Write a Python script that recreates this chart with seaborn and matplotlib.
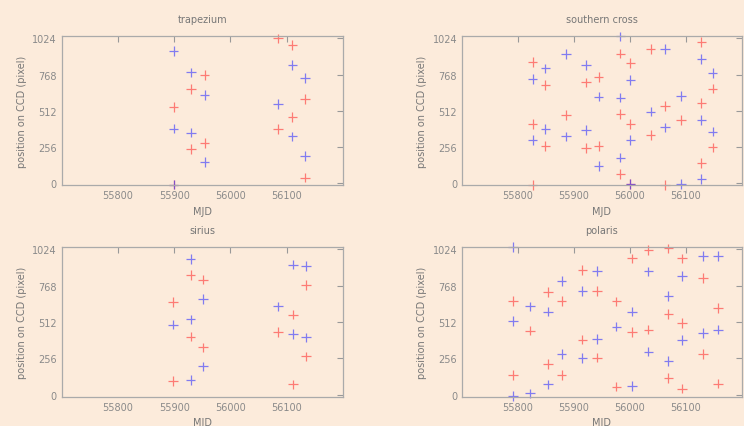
import pandas as pd
import matplotlib
matplotlib.use("Agg")
import matplotlib.pyplot as plt
import seaborn as sns

# data (MJD, position on CCD in pixels)
trap_red_mjd = [55899, 55899, 55930, 55930, 55954, 55954, 56084, 56084, 56110, 56110, 56133, 56133]
trap_red_pos = [539, -12, 664, 239, 764, 281, 1024, 381, 977, 468, 594, 38]
trap_blue_mjd = [55899, 55899, 55899, 55930, 55930, 55954, 55954, 56084, 56110, 56110, 56133, 56133]
trap_blue_pos = [936, 385, -12, 783, 357, 624, 149, 558, 837, 329, 742, 192]

south_red_mjd = [55826, 55826, 55826, 55849, 55849, 55886, 55922, 55922, 55944, 55944,
                 55983, 55983, 55983, 56001, 56001, 56001, 56037, 56037, 56063, 56063,
                 56091, 56128, 56128, 56128, 56148, 56148]
south_red_pos = [858, 416, -14, 693, 262, 482, 712, 246, 752, 262,
                 917, 487, 61, 849, 416, -9, 948, 338, 546, -14,
                 447, 1000, 565, 140, 669, 251]
south_blue_mjd = [55826, 55826, 55849, 55849, 55886, 55886, 55922, 55922, 55944, 55944,
                  55983, 55983, 55983, 56001, 56001, 56001, 56037, 56063, 56063, 56091,
                  56091, 56128, 56128, 56128, 56148, 56148]
south_blue_pos = [735, 303, 811, 381, 913, 329, 837, 376, 612, 121,
                  1038, 605, 180, 731, 303, -9, 506, 948, 393, 617,
                  -9, 877, 447, 26, 778, 364]

sirius_red_mjd = [55898, 55898, 55929, 55929, 55951, 55951, 56085, 56111, 56111, 56134, 56134]
sirius_red_pos = [653, 97, 842, 409, 811, 333, 440, 565, 73, 771, 270]
sirius_blue_mjd = [55898, 55929, 55929, 55929, 55951, 55951, 56085, 56111, 56111, 56134, 56134]
sirius_blue_pos = [494, 955, 530, 104, 676, 199, 622, 917, 428, 908, 404]

polaris_red_mjd = [55791, 55791, 55822, 55854, 55854, 55878, 55878, 55915, 55915, 55941, 55941,
                   55976, 55976, 56004, 56004, 56033, 56033, 56069, 56069, 56069,
                   56093, 56093, 56093, 56131, 56131, 56157, 56157]
polaris_red_pos = [660, 137, 452, 724, 215, 660, 140, 877, 388, 731, 262,
                   657, 57, 960, 440, 1019, 459, 1031, 570, 116,
                   960, 504, 43, 823, 286, 610, 78]
polaris_blue_mjd = [55791, 55791, 55791, 55822, 55822, 55854, 55854, 55878, 55878, 55915, 55915,
                    55941, 55941, 55976, 56004, 56004, 56033, 56033, 56069, 56069,
                    56093, 56093, 56131, 56131, 56157, 56157]
polaris_blue_pos = [1040, 518, -9, 622, 9, 586, 73, 802, 286, 731, 258,
                    873, 393, 480, 586, 61, 868, 303, 695, 239,
                    837, 385, 977, 433, 977, 459]

titles = ["trapezium", "southern cross", "sirius", "polaris"]
x_ticks = [55800, 55900, 56000, 56100]
y_ticks = [0, 256, 512, 768, 1024]

BG = "#fcebdb"
GREY = "#8a8a8a"

sns.set_style("white")
plt.rcParams["font.family"] = ["DejaVu Sans"]


def make_frame(red_mjd, red_pos, blue_mjd, blue_pos):
    red = pd.DataFrame({"mjd": red_mjd, "pos": red_pos, "axis": "red"})
    blue = pd.DataFrame({"mjd": blue_mjd, "pos": blue_pos, "axis": "blue"})
    return pd.concat([red, blue], ignore_index=True)


frames = [
    make_frame(trap_red_mjd, trap_red_pos, trap_blue_mjd, trap_blue_pos),
    make_frame(south_red_mjd, south_red_pos, south_blue_mjd, south_blue_pos),
    make_frame(sirius_red_mjd, sirius_red_pos, sirius_blue_mjd, sirius_blue_pos),
    make_frame(polaris_red_mjd, polaris_red_pos, polaris_blue_mjd, polaris_blue_pos),
]

fig = plt.figure(figsize=(7.44, 4.27), dpi=100, facecolor=BG)

# axes boxes in figure fractions: left, bottom, width, height
boxes = [
    [0.083, 0.564, 0.378, 0.349],
    [0.621, 0.564, 0.376, 0.349],
    [0.083, 0.068, 0.378, 0.351],
    [0.621, 0.068, 0.376, 0.351],
]

for box, title, df in zip(boxes, titles, frames):
    ax = fig.add_axes(box)
    ax.set_facecolor(BG)
    sns.scatterplot(data=df, x="mjd", y="pos", hue="axis",
                    palette={"red": "#ff3030", "blue": "#3030ff"},
                    marker="+", s=48, linewidth=0.9, alpha=0.6,
                    legend=False, clip_on=False, ax=ax)
    ax.set_xlim(55700, 56200)
    ax.set_ylim(-16, 1040)
    ax.set_xticks(x_ticks)
    ax.set_yticks(y_ticks)
    ax.tick_params(direction="in", top=True, right=True, length=4, width=0.8,
                   colors="#999999", labelcolor=GREY, labelsize=7)
    for sp in ax.spines.values():
        sp.set_color("#aaaaaa")
        sp.set_linewidth(0.9)
    ax.set_title(title, fontsize=7, color="#777777", pad=10)
    ax.set_xlabel("MJD", fontsize=7, color="#777777")
    ax.set_ylabel("position on CCD (pixel)", fontsize=7, color="#777777")

fig.savefig("out.png", dpi=100, facecolor=BG)
